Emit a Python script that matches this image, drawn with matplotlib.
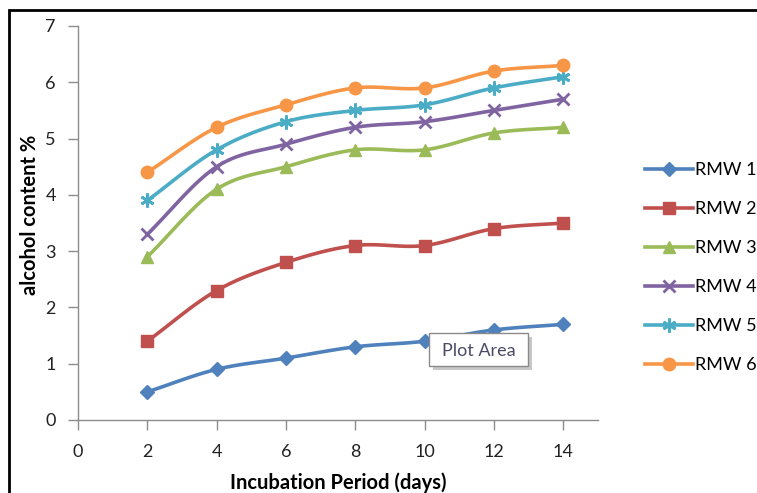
import numpy as np
import matplotlib
matplotlib.use("Agg")
import matplotlib.pyplot as plt
from matplotlib.lines import Line2D
from matplotlib.patches import Rectangle

days = [2, 4, 6, 8, 10, 12, 14]
rmw1 = [0.5, 0.9, 1.1, 1.3, 1.4, 1.6, 1.7]
rmw2 = [1.4, 2.3, 2.8, 3.1, 3.1, 3.4, 3.5]
rmw3 = [2.9, 4.1, 4.5, 4.8, 4.8, 5.1, 5.2]
rmw4 = [3.3, 4.5, 4.9, 5.2, 5.3, 5.5, 5.7]
rmw5 = [3.9, 4.8, 5.3, 5.5, 5.6, 5.9, 6.1]
rmw6 = [4.4, 5.2, 5.6, 5.9, 5.9, 6.2, 6.3]
names = ["RMW 1", "RMW 2", "RMW 3", "RMW 4", "RMW 5", "RMW 6"]
xticks = [0, 2, 4, 6, 8, 10, 12, 14]
yticks = [0, 1, 2, 3, 4, 5, 6, 7]

series = [rmw1, rmw2, rmw3, rmw4, rmw5, rmw6]
colors = ["#4F81BD", "#C0504D", "#9BBB59", "#8064A2", "#4BACC6", "#F79646"]
asterisk = (6, 2, 0)
markers = ["D", "s", "^", "x", asterisk, "o"]
msizes = [7, 8, 8, 9, 10, 9]

plt.rcParams['font.family'] = ['Lato', 'DejaVu Sans']


def smooth(x, y, n=20):
    # Catmull-Rom style smoothing like Excel's smoothed line
    x = np.asarray(x, float); y = np.asarray(y, float)
    px = np.concatenate([[2 * x[0] - x[1]], x, [2 * x[-1] - x[-2]]])
    py = np.concatenate([[2 * y[0] - y[1]], y, [2 * y[-1] - y[-2]]])
    xs, ys = [], []
    t = np.linspace(0, 1, n)
    for i in range(1, len(px) - 2):
        p0, p1, p2, p3 = [np.array([px[j], py[j]]) for j in (i - 1, i, i + 1, i + 2)]
        m1 = (p2 - p0) / 6.0
        m2 = (p3 - p1) / 6.0
        b0 = p1; b1 = p1 + m1; b2 = p2 - m2; b3 = p2
        pts = ((1 - t) ** 3)[:, None] * b0 + (3 * (1 - t) ** 2 * t)[:, None] * b1 \
            + (3 * (1 - t) * t ** 2)[:, None] * b2 + (t ** 3)[:, None] * b3
        xs.extend(pts[:, 0]); ys.extend(pts[:, 1])
    return np.array(xs), np.array(ys)


W, H = 757, 493
fig = plt.figure(figsize=(W / 100, H / 100), dpi=100)
ax = fig.add_axes([78 / W, 73 / H, 520 / W, 394 / H])

handles = []
for vals, c, m, ms, nm in zip(series, colors, markers, msizes, names):
    sx, sy = smooth(days, vals)
    ax.plot(sx, sy, color=c, lw=2.6, solid_capstyle='round', zorder=3)
    mew = 2.0 if m in ("x", asterisk) else 1.0
    ax.plot(days, vals, ls='none', marker=m, ms=ms, color=c, mec=c, mew=mew, zorder=4)
    handles.append(Line2D([0], [0], color=c, lw=2.6, marker=m, ms=ms, mec=c, mew=mew))

ax.set_xlim(0, 15)
ax.set_ylim(0, 7)
ax.set_xticks(xticks)
ax.set_yticks(yticks)
for s in ["top", "right"]:
    ax.spines[s].set_visible(False)
for s in ["left", "bottom"]:
    ax.spines[s].set_color("#8c8c8c")
    ax.spines[s].set_linewidth(1.0)
ax.tick_params(axis='both', direction='out', length=7, width=1.0, color="#8c8c8c",
               labelsize=13, labelcolor="#222222")
ax.tick_params(axis='y', pad=9)
ax.tick_params(axis='x', pad=10)

ax.set_xlabel("Incubation Period (days)", fontsize=14.5, fontweight='bold')
ax.set_ylabel("alcohol content %", fontsize=14.5, fontweight='bold')
ax.xaxis.label.set_va('center')
ax.yaxis.label.set_va('center')
ax.xaxis.set_label_coords((338 - 78) / 520, (420 - 483) / 394)
ax.yaxis.set_label_coords((30 - 78) / 520, (420 - 215) / 394)

leg = fig.legend(handles, names, loc='upper left', bbox_to_anchor=(638 / W, 1 - 155 / H),
                 frameon=False, fontsize=13, handlelength=2.65, handletextpad=0.1,
                 labelspacing=1.27, borderaxespad=0)

# "Plot Area" tooltip with soft shadow
bx0, by0, bw, bh = 429, 333, 99, 33
fig.patches.append(Rectangle(((bx0 + 4) / W, 1 - (by0 + bh + 4) / H), bw / W, bh / H,
                             transform=fig.transFigure, fc='#9a9a9a', ec='none',
                             alpha=0.55, zorder=5))
fig.patches.append(Rectangle((bx0 / W, 1 - (by0 + bh) / H), bw / W, bh / H,
                             transform=fig.transFigure, fc='white', ec='#8a8a8a',
                             lw=1.0, zorder=6))
fig.text((bx0 + bw / 2) / W, 1 - (by0 + bh / 2 + 1) / H, "Plot Area", fontsize=13,
         color="#4a4a68", ha='center', va='center', zorder=7)

# outer frame
fig.patches.append(Rectangle((9 / W, -0.05), 1.2, 1 - 10 / H + 0.05,
                             transform=fig.transFigure, fill=False, ec='black', lw=2.0))

fig.savefig("out.png", dpi=100)
